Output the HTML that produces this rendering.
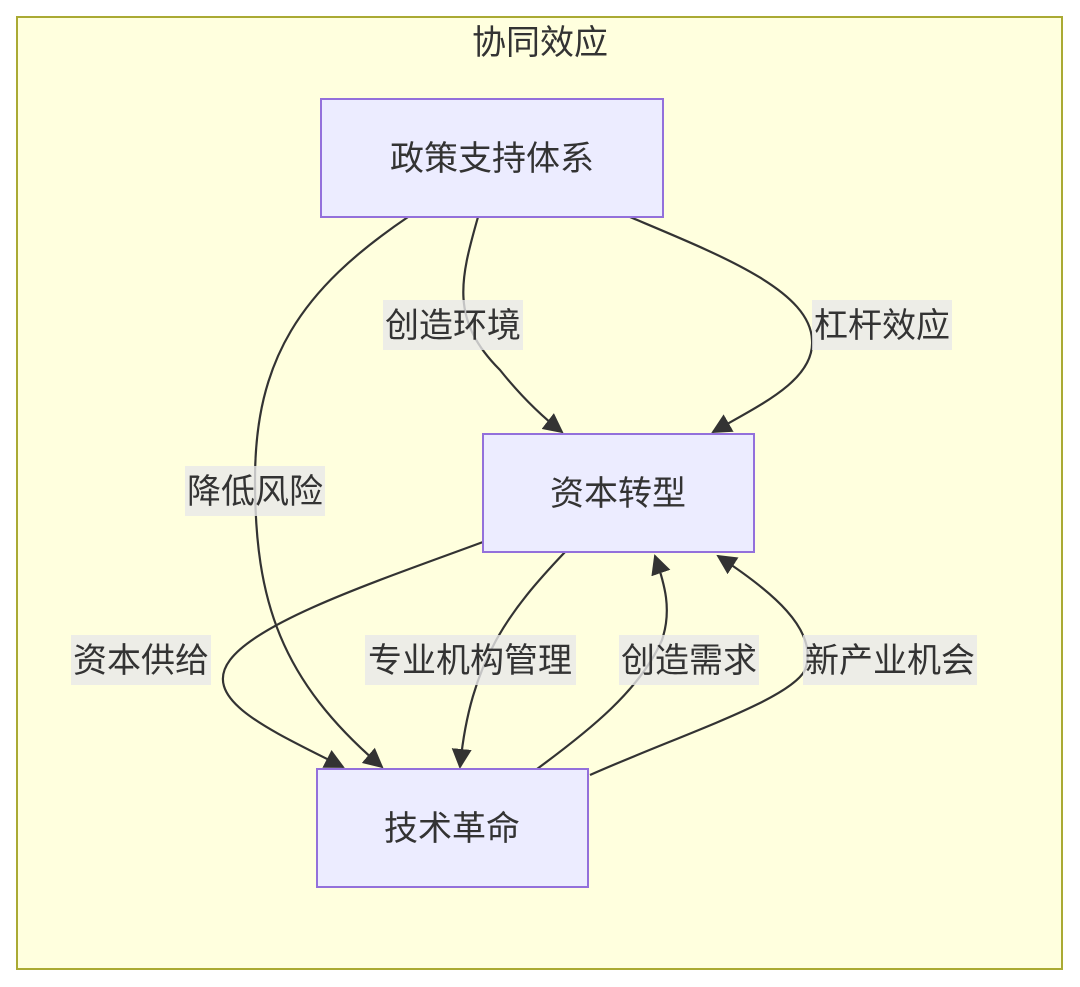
<!DOCTYPE html>
<html><head><meta charset="utf-8"><style>
html,body{margin:0;padding:0;background:#fff;width:1080px;height:987px;overflow:hidden}
svg text{font-family:"Liberation Sans","Noto Sans CJK SC",sans-serif;fill:#333}
</style></head><body>
<svg width="1080" height="987" xmlns="http://www.w3.org/2000/svg">
<defs>
<marker id="b" viewBox="0 0 10 10" refX="9" refY="5" markerWidth="20" markerHeight="20" markerUnits="userSpaceOnUse" orient="auto"><path d="M0,0 L10,5 L0,10 z" fill="#333"/></marker></defs>
<rect x="17" y="17" width="1045" height="952" fill="#ffffde" stroke="#aaaa33" stroke-width="2"/>
<text x="540" y="54" font-size="34" text-anchor="middle">协同效应</text>
<g fill="none" stroke="#333" stroke-width="2.2" marker-end="url(#b)">
<path d="M478,217 C460,280 450,320 500,370 C520,395 540,415 562,432"/>
<path d="M630,217 C720,255 810,290 812,340 C815,380 760,405 713,432"/>
<path d="M408,217 C300,290 255,360 255,480 C255,600 280,680 382,767"/>
<path d="M483,542 C380,580 260,620 230,660 C200,700 270,730 343,767"/>
<path d="M565,552 C510,610 470,660 460,767"/>
<path d="M537,769 C590,730 640,690 662,640 C672,610 665,585 655,556"/>
<path d="M590,775 C680,735 790,700 805,670 C820,630 770,590 718,556"/>
</g>
<g fill="#ececff" stroke="#9370db" stroke-width="2">
<rect x="321" y="99" width="342" height="118"/>
<rect x="483" y="434" width="271" height="118"/>
<rect x="317" y="769" width="271" height="118"/>
</g>
<g font-size="34" text-anchor="middle">
<text x="492" y="170">政策支持体系</text>
<text x="618" y="505">资本转型</text>
<text x="452" y="840">技术革命</text>
</g>
<g fill="rgba(232,232,232,0.8)">
<rect x="383" y="300" width="140" height="50"/>
<rect x="812" y="300" width="140" height="50"/>
<rect x="185" y="466" width="140" height="50"/>
<rect x="71" y="635" width="140" height="50"/>
<rect x="365" y="635" width="211" height="50"/>
<rect x="619" y="635" width="140" height="50"/>
<rect x="803" y="635" width="174" height="50"/>
</g>
<g font-size="34" text-anchor="middle">
<text x="453" y="337">创造环境</text>
<text x="882" y="337">杠杆效应</text>
<text x="255" y="503">降低风险</text>
<text x="141" y="672">资本供给</text>
<text x="470" y="672">专业机构管理</text>
<text x="689" y="672">创造需求</text>
<text x="890" y="672">新产业机会</text>
</g>
</svg>
</body></html>
